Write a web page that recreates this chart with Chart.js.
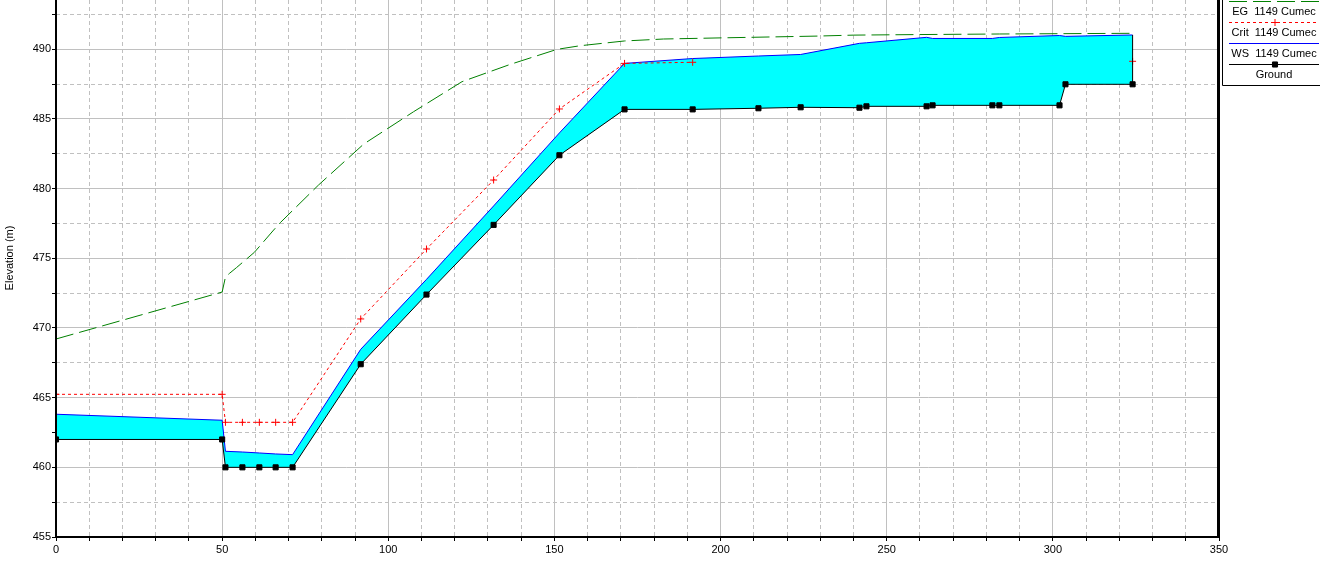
<!DOCTYPE html>
<html>
<head>
<meta charset="utf-8">
<script src="https://cdn.jsdelivr.net/npm/chart.js@4.4.1/dist/chart.umd.min.js"></script>
<style>
html,body{margin:0;padding:0;background:#fff;overflow:hidden;}
canvas{display:block;}
</style>
</head>
<body>
<canvas id="c" width="1320" height="561"></canvas>
<script>
// ---- data ----
const stations   = [0, 50, 51, 56.1, 61.2, 66.1, 71.2, 91.7, 111.5, 131.7, 151.5, 171.1, 191.6, 211.4, 224.1, 241.8, 243.9, 262, 263.8, 281.8, 283.9, 302, 303.8, 324];
const groundElev = [462.0, 462.0, 460.0, 460.0, 460.0, 460.0, 460.0, 467.4, 472.4, 477.4, 482.4, 485.69, 485.69, 485.77, 485.84, 485.81, 485.91, 485.91, 485.98, 485.98, 485.98, 485.98, 487.49, 487.49];
const wsElev     = [463.81, 463.38, 461.15, 461.1, 461.03, 460.96, 460.91, 468.47, 473.49, 478.76, 484.0, 488.99, 489.34, 489.52, 489.63, 490.43, 490.47, 490.86, 490.78, 490.78, 490.85, 490.99, 490.93, 491.03];
const critElev   = [465.24, 465.24, 463.23, 463.23, 463.23, 463.23, 463.23, 470.65, 475.67, 480.62, 485.72, 488.99, 489.07, null, null, null, null, null, null, null, null, null, null, 489.14];
const egStations = [0, 50, 51, 52.2, 54.3, 59.7, 65.5, 67.5, 71.2, 79, 92.6, 107.6, 122.2, 136.7, 150.8, 157.8, 171.1, 182.8, 202, 229.1, 240, 260, 284, 324];
const egElev     = [469.21, 472.58, 473.66, 473.92, 474.33, 475.43, 477.03, 477.56, 478.43, 480.26, 483.2, 485.52, 487.68, 488.92, 490.0, 490.26, 490.6, 490.74, 490.83, 490.95, 491.02, 491.06, 491.1, 491.15];

const xTicks  = [0,10,20,30,40,50,60,70,80,90,100,110,120,130,140,150,160,170,180,190,200,210,220,230,240,250,260,270,280,290,300,310,320,330,340,350];
const xLabels = [0,50,100,150,200,250,300,350];
const yTicks  = [455,457.5,460,462.5,465,467.5,470,472.5,475,477.5,480,482.5,485,487.5,490,492.5];
const yLabels = [455,460,465,470,475,480,485,490];
const legendLabels = ['EG  1149 Cumec', 'Crit  1149 Cumec', 'WS  1149 Cumec', 'Ground'];
const yTitle = 'Elevation (m)';

const FONT = '"Liberation Sans", Arial, sans-serif';
const pts = (xs, ys) => xs.map((x, i) => ({x: x, y: ys[i]}));
const last = stations.length - 1;

const dsGround = { label: 'Ground', data: pts(stations, groundElev), borderColor: '#000000', backgroundColor: '#000000',
  borderWidth: 1, pointStyle: 'rect', pointRadius: 3.6, pointHoverRadius: 3.6, pointBorderWidth: 1, fill: false, tension: 0 };
const dsEdge = { label: 'edge', data: [{x: stations[last], y: groundElev[last]}, {x: stations[last], y: wsElev[last]}],
  borderColor: '#000000', borderWidth: 1, pointRadius: 0, fill: false };
const dsCrit = { label: 'Crit', data: pts(stations, critElev), borderColor: '#ff0000', backgroundColor: '#ff0000',
  borderWidth: 1, borderDash: [3, 3], pointStyle: 'cross', pointRadius: 3.5, pointHoverRadius: 3.5, pointBorderWidth: 1, fill: false, spanGaps: false };
const dsWS = { label: 'WS', data: pts(stations, wsElev), borderColor: '#0000ff', backgroundColor: '#00ffff',
  borderWidth: 1, pointRadius: 0, fill: 0 };
const dsEG = { label: 'EG', data: pts(egStations, egElev), borderColor: '#008000', borderWidth: 1, borderDash: [18, 6],
  pointRadius: 0, fill: false };

const legendPlugin = {
  id: 'hecLegend',
  afterDraw(chart) {
    const ctx = chart.ctx;
    const a = chart.chartArea;
    ctx.save();
    // axes frame
    ctx.fillStyle = '#000';
    ctx.fillRect(a.left - 1, 0, 2, a.bottom + 1);
    ctx.fillRect(a.left - 1, a.bottom - 1, a.right - a.left + 1, 2);
    ctx.fillRect(a.right - 2, 0, 3, a.bottom + 1);
    // y title
    ctx.save();
    ctx.translate(10, 258);
    ctx.rotate(-Math.PI / 2);
    ctx.font = '11px ' + FONT;
    ctx.textAlign = 'center';
    ctx.textBaseline = 'middle';
    ctx.fillText(yTitle, 0, 0);
    ctx.restore();
    // legend box
    ctx.strokeStyle = '#000';
    ctx.lineWidth = 1;
    ctx.setLineDash([]);
    ctx.beginPath();
    ctx.moveTo(1222.5, 0); ctx.lineTo(1222.5, 85.5); ctx.lineTo(1320, 85.5);
    ctx.stroke();
    const items = [dsEG, dsCrit, dsWS, dsGround];
    items.forEach((ds, i) => {
      const ly = Math.round(0.7 + 21.1 * i) + 0.5;
      const ty = 11.7 + 21.1 * i;
      ctx.strokeStyle = ds.borderColor;
      ctx.lineWidth = 1;
      ctx.setLineDash(ds.borderDash || []);
      ctx.beginPath();
      ctx.moveTo(1229, ly); ctx.lineTo(1319, ly);
      ctx.stroke();
      ctx.setLineDash([]);
      if (ds.pointRadius > 0) {
        ctx.fillStyle = ds.backgroundColor;
        ctx.strokeStyle = ds.borderColor;
        ctx.lineWidth = ds.pointBorderWidth;
        Chart.helpers.drawPoint(ctx, {pointStyle: ds.pointStyle, radius: ds.pointRadius, rotation: 0, borderWidth: ds.pointBorderWidth}, 1275, ly);
      }
      ctx.fillStyle = '#000';
      ctx.font = '11px ' + FONT;
      ctx.textAlign = 'center';
      ctx.textBaseline = 'middle';
      ctx.fillText(legendLabels[i], 1274, ty);
    });
    ctx.restore();
  }
};

new Chart(document.getElementById('c'), {
  type: 'line',
  data: { datasets: [dsGround, dsEdge, dsCrit, dsWS, dsEG] },
  options: {
    responsive: false,
    animation: false,
    devicePixelRatio: 1,
    events: [],
    layout: { autoPadding: false, padding: { left: 0, top: 0, right: 101, bottom: 0 } },
    plugins: { legend: { display: false }, tooltip: { enabled: false } },
    scales: {
      x: {
        type: 'linear', min: 0, max: 350,
        afterBuildTicks: s => { s.ticks = xTicks.map(v => ({value: v})); },
        afterFit: s => { s.height = 24; s.paddingLeft = 0; s.paddingRight = 0; },
        ticks: { autoSkip: false, maxRotation: 0, minRotation: 0, padding: 2, color: '#000',
          font: { family: FONT, size: 11 }, callback: v => xLabels.includes(v) ? String(v) : '' },
        grid: { color: '#c0c0c0', lineWidth: 1, tickColor: '#000', tickLength: 4, drawTicks: true },
        border: { display: false, dash: c => (c.tick && xLabels.includes(c.tick.value)) ? [] : [4, 3] }
      },
      y: {
        type: 'linear', min: 455, max: 493.54,
        afterBuildTicks: s => { s.ticks = yTicks.map(v => ({value: v})); },
        afterFit: s => { s.width = 56; s.paddingTop = 0; s.paddingBottom = 0; },
        ticks: { autoSkip: false, padding: 1, color: '#000',
          font: { family: FONT, size: 11 }, callback: v => yLabels.includes(v) ? String(v) : '' },
        grid: { color: '#c0c0c0', lineWidth: 1, tickColor: '#000', tickLength: 4, drawTicks: true },
        border: { display: false, dash: c => (c.tick && yLabels.includes(c.tick.value)) ? [] : [4, 3] }
      }
    }
  },
  plugins: [legendPlugin]
});
</script>
</body>
</html>
